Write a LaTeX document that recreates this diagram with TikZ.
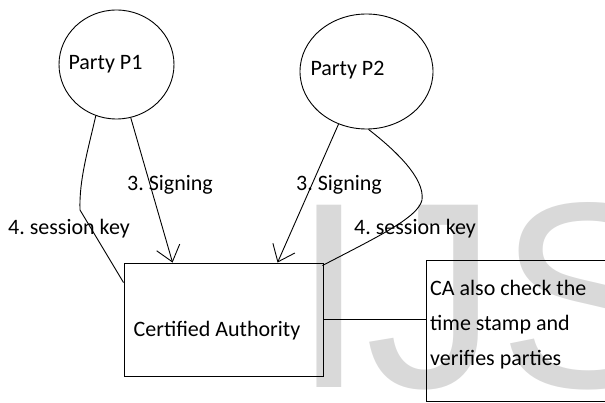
\documentclass[tikz,border=0pt]{standalone}
\usepackage{fontspec}
\setmainfont{Carlito}
\newfontfamily\wmfont{Liberation Sans}
\usetikzlibrary{arrows.meta,calc,shapes.geometric}
\frenchspacing
\begin{document}
\begin{tikzpicture}[x=1pt,y=-1pt,
  every node/.style={font=\frenchspacing\fontsize{22}{35}\selectfont, text=black},
  party/.style={draw, ellipse, line width=0.9pt, inner sep=0pt},
  boxnode/.style={draw, rectangle, line width=0.9pt, inner sep=0pt},
  conn/.style={line width=0.9pt},
  arr/.style={line width=0.9pt, -{Straight Barb[length=15pt,width=24pt,line width=0.9pt]}},
  lbl/.style={inner sep=0pt, anchor=base}
]
\useasboundingbox (0,0) rectangle (605,403);
\clip (0,0) rectangle (605,403);
% watermark
\node[inner sep=0pt, anchor=base west, text=black!15, font=\wmfont\fontsize{265}{265}\selectfont] (wm) at (292,387) {IJS};
% parties
\node[party, minimum width=115pt, minimum height=109pt] (p1) at (116.5,64.5) {};
\node[party, minimum width=133pt, minimum height=115pt] (p2) at (366.5,71.5) {};
\node[lbl] (p1t) at (105.5,70) {Party P1};
\node[lbl] (p2t) at (347.5,76) {Party P2};
% certified authority
\node[boxnode, minimum width=199pt, minimum height=113pt] (ca) at (223.5,319.5) {};
\node[lbl] (cat) at (217,336) {Certified Authority};
% note box
\node[boxnode, anchor=north west, minimum width=200pt, minimum height=141pt] (note) at (426,260) {};
\node[inner sep=0pt, anchor=north west, align=left] (notet) at (430,280) {CA also check the\\time stamp and\\verifies parties};
\draw[conn] (ca.east) -- (ca.east -| note.west);
% signing arrows
\draw[arr] (p1.-75) -- ($(ca.north west)+(49,0)$);
\draw[arr] (p2.-118) -- ($(ca.north west)+(154,0)$);
% session keys
\draw[conn] (p1.-112) .. controls (88,150) and (79,180) .. (80,210) -- ($(ca.north west)+(0,20)$);
\draw[conn] (p2.-88) .. controls (395,150) and (425,178) .. (422,200) .. controls (418,218) and (375,238) .. ($(ca.north east)+(-1,3)$);
% labels
\node[lbl] (l1) at (170,191) {3. Signing};
\node[lbl] (l2) at (69,235) {4. session key};
\node[lbl] (l3) at (339,191) {3. Signing};
\node[lbl] (l4) at (415,235) {4. session key};
\end{tikzpicture}
\end{document}
